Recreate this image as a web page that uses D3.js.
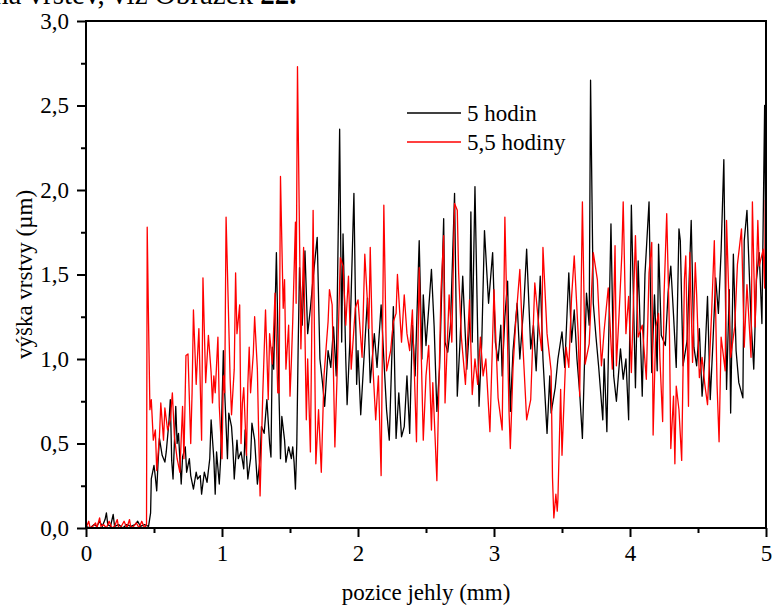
<!DOCTYPE html>
<html>
<head>
<meta charset="utf-8">
<title>výška vrstvy</title>
<script src="https://d3js.org/d3.v7.min.js"></script>
<style>
  body { margin: 0; background: #fff; }
  svg text { font-family: "Liberation Serif", "Times New Roman", serif; fill: #000; }
</style>
</head>
<body>
<svg width="774" height="609"></svg>
<script>
// data: [pozice (mm), výška (µm)]
var hodin5 = [
  [0.00,0.01],[0.03,0.00],[0.06,0.02],[0.08,0.01],[0.10,0.04],[0.12,0.01],[0.14,0.05],[0.15,0.09],[0.16,0.02],[0.18,0.01],
  [0.20,0.08],[0.21,0.01],[0.24,0.02],[0.27,0.00],[0.30,0.02],[0.33,0.01],[0.36,0.02],[0.38,0.04],[0.40,0.01],[0.43,0.02],
  [0.46,0.01],[0.475,0.09],[0.48,0.29],[0.50,0.37],[0.51,0.30],[0.52,0.22],[0.53,0.39],[0.54,0.53],[0.56,0.43],[0.58,0.39],
  [0.59,0.45],[0.61,0.63],[0.62,0.76],[0.63,0.40],[0.64,0.29],[0.66,0.72],[0.67,0.50],[0.68,0.56],[0.70,0.26],[0.71,0.42],
  [0.73,0.48],[0.74,0.33],[0.76,0.41],[0.77,0.31],[0.79,0.23],[0.81,0.33],[0.82,0.29],[0.84,0.31],[0.85,0.20],[0.87,0.33],
  [0.89,0.27],[0.91,0.41],[0.92,0.64],[0.94,0.41],[0.95,0.20],[0.96,0.45],[0.98,0.26],[0.99,0.41],[1.01,1.05],[1.02,0.80],
  [1.04,0.41],[1.05,0.68],[1.07,0.60],[1.08,0.48],[1.09,0.29],[1.11,0.52],[1.12,0.41],[1.14,0.45],[1.16,0.35],[1.17,0.58],
  [1.19,0.29],[1.21,0.41],[1.22,0.62],[1.24,0.52],[1.26,0.26],[1.28,0.41],[1.29,0.60],[1.31,0.56],[1.33,0.76],[1.35,0.50],
  [1.36,0.42],[1.37,1.07],[1.38,0.94],[1.40,1.63],[1.42,0.76],[1.43,0.41],[1.44,0.66],[1.46,0.52],[1.47,0.39],[1.49,0.48],
  [1.51,0.41],[1.52,0.48],[1.53,0.39],[1.54,0.23],[1.55,0.50],[1.56,1.07],[1.57,1.54],[1.59,1.20],[1.61,1.64],[1.63,1.15],
  [1.65,1.30],[1.67,1.48],[1.70,1.72],[1.72,1.00],[1.74,0.85],[1.755,0.72],[1.78,1.05],[1.80,0.95],[1.82,1.19],[1.84,0.90],
  [1.865,2.36],[1.88,1.10],[1.89,1.74],[1.91,1.00],[1.92,0.73],[1.94,1.10],[1.97,1.98],[1.99,0.85],[2.00,1.05],[2.02,0.67],
  [2.04,0.95],[2.07,1.36],[2.09,0.86],[2.12,1.15],[2.14,0.95],[2.17,1.32],[2.19,1.00],[2.21,0.70],[2.23,0.52],[2.26,1.31],
  [2.28,0.53],[2.30,0.80],[2.32,0.54],[2.34,0.60],[2.36,0.90],[2.38,0.56],[2.40,1.20],[2.42,0.90],[2.45,1.70],[2.47,1.00],
  [2.48,1.38],[2.50,1.08],[2.52,1.30],[2.54,1.53],[2.56,1.19],[2.58,0.69],[2.60,0.95],[2.63,1.83],[2.64,1.10],[2.66,1.04],
  [2.68,1.20],[2.71,1.98],[2.73,0.78],[2.75,1.10],[2.77,1.49],[2.80,0.94],[2.82,1.20],[2.83,1.87],[2.84,1.10],[2.86,2.02],
  [2.89,0.72],[2.91,1.10],[2.93,1.76],[2.96,1.33],[2.99,1.63],[3.01,1.10],[3.03,0.99],[3.05,1.20],[3.06,0.90],[3.08,1.25],
  [3.10,1.46],[3.12,0.69],[3.14,1.05],[3.17,1.33],[3.19,1.00],[3.22,1.33],[3.24,1.65],[3.27,1.06],[3.29,1.20],[3.31,0.93],
  [3.34,1.49],[3.36,1.00],[3.39,0.56],[3.41,0.90],[3.42,0.68],[3.45,0.83],[3.47,1.00],[3.50,1.16],[3.52,0.95],[3.55,1.51],
  [3.57,1.10],[3.59,1.29],[3.61,1.00],[3.63,0.80],[3.65,0.53],[3.68,1.39],[3.70,1.20],[3.71,2.65],[3.73,1.33],[3.75,1.13],
  [3.77,0.95],[3.80,0.64],[3.81,1.00],[3.83,0.57],[3.86,1.80],[3.88,0.90],[3.90,0.75],[3.93,1.06],[3.95,0.88],[3.97,1.00],
  [3.99,0.64],[4.01,1.91],[4.04,0.83],[4.06,1.58],[4.09,0.78],[4.11,1.50],[4.14,1.93],[4.16,0.92],[4.18,1.38],[4.20,0.93],
  [4.21,1.68],[4.23,1.14],[4.26,1.08],[4.28,1.39],[4.30,1.55],[4.32,1.26],[4.34,0.95],[4.36,1.77],[4.37,1.70],[4.39,0.96],
  [4.42,1.11],[4.45,1.82],[4.47,1.07],[4.49,0.96],[4.51,1.18],[4.53,0.78],[4.55,1.00],[4.57,1.37],[4.59,0.76],[4.61,1.10],
  [4.63,1.48],[4.65,1.27],[4.67,1.64],[4.69,2.18],[4.71,0.82],[4.73,1.41],[4.74,0.68],[4.76,1.62],[4.78,1.05],[4.80,0.86],
  [4.83,0.77],[4.84,1.70],[4.86,1.88],[4.89,1.23],[4.91,0.94],[4.93,1.47],[4.95,1.63],[4.97,1.21],[4.99,2.50],[5.00,1.36]
];

var hodiny55 = [
  [0.00,0.00],[0.02,0.04],[0.03,0.00],[0.05,0.01],[0.07,0.03],[0.08,0.00],[0.10,0.06],[0.11,0.01],[0.13,0.02],[0.15,0.00],
  [0.17,0.04],[0.19,0.00],[0.21,0.01],[0.23,0.05],[0.24,0.00],[0.26,0.01],[0.28,0.04],[0.30,0.00],[0.32,0.05],[0.33,0.00],
  [0.35,0.01],[0.37,0.03],[0.39,0.00],[0.41,0.04],[0.43,0.00],[0.445,0.02],[0.45,1.78],[0.46,1.21],[0.47,0.70],[0.48,0.76],
  [0.495,0.52],[0.51,0.58],[0.52,0.34],[0.54,0.54],[0.55,0.74],[0.57,0.52],[0.58,0.71],[0.60,0.58],[0.62,0.64],[0.635,0.80],
  [0.65,0.54],[0.67,0.41],[0.69,0.33],[0.71,0.72],[0.72,0.41],[0.735,1.02],[0.75,1.03],[0.77,0.50],[0.78,0.80],[0.79,1.29],
  [0.81,0.85],[0.83,1.18],[0.85,0.52],[0.86,1.48],[0.88,0.86],[0.90,1.14],[0.92,0.92],[0.93,0.74],[0.94,0.90],[0.95,0.80],
  [0.97,1.13],[0.98,0.72],[1.00,0.41],[1.01,0.90],[1.02,0.80],[1.03,1.84],[1.06,0.88],[1.07,0.67],[1.09,0.94],[1.10,1.51],
  [1.11,1.15],[1.13,1.32],[1.14,0.50],[1.15,0.74],[1.16,0.83],[1.18,0.43],[1.19,0.85],[1.20,1.07],[1.21,0.80],[1.23,1.03],
  [1.24,1.25],[1.26,0.94],[1.27,0.54],[1.28,0.19],[1.30,0.80],[1.32,1.29],[1.34,0.76],[1.35,1.15],[1.37,0.97],[1.39,1.39],
  [1.41,0.80],[1.42,0.80],[1.43,2.08],[1.45,1.30],[1.46,1.47],[1.47,0.94],[1.49,1.20],[1.50,0.78],[1.51,0.98],[1.52,1.22],
  [1.54,1.81],[1.545,1.33],[1.555,2.73],[1.58,1.06],[1.60,1.66],[1.62,0.64],[1.63,1.00],[1.65,0.45],[1.67,1.88],[1.69,0.38],
  [1.71,0.70],[1.73,0.33],[1.75,0.90],[1.78,1.22],[1.79,1.41],[1.81,1.32],[1.83,0.48],[1.85,1.00],[1.87,1.60],[1.89,1.55],
  [1.91,1.20],[1.93,1.49],[1.95,0.94],[1.98,1.30],[2.00,1.35],[2.03,1.01],[2.05,1.62],[2.08,1.18],[2.09,1.66],[2.11,0.95],
  [2.13,0.64],[2.15,0.90],[2.17,0.31],[2.19,1.91],[2.21,0.93],[2.24,1.05],[2.26,1.22],[2.28,1.27],[2.29,1.50],[2.32,1.10],
  [2.34,1.38],[2.36,1.15],[2.38,1.05],[2.40,1.29],[2.43,0.51],[2.45,1.54],[2.48,0.52],[2.50,0.90],[2.52,1.08],[2.54,0.58],
  [2.55,0.86],[2.58,0.28],[2.61,1.40],[2.63,1.73],[2.64,0.74],[2.67,1.38],[2.69,1.10],[2.71,1.92],[2.73,1.88],[2.74,1.51],
  [2.76,1.13],[2.79,0.85],[2.82,1.35],[2.84,0.79],[2.86,1.00],[2.88,0.85],[2.90,1.13],[2.92,0.90],[2.94,1.00],[2.97,0.57],
  [3.00,1.41],[3.03,0.77],[3.06,0.58],[3.08,1.84],[3.11,0.70],[3.12,0.47],[3.14,0.95],[3.16,1.22],[3.19,1.53],[3.21,1.12],
  [3.24,0.64],[3.27,0.76],[3.30,1.45],[3.33,1.19],[3.35,1.05],[3.36,1.66],[3.39,1.15],[3.42,0.93],[3.43,0.30],[3.44,0.06],
  [3.455,0.20],[3.465,0.10],[3.47,0.17],[3.49,0.82],[3.50,0.43],[3.53,1.07],[3.55,0.95],[3.57,1.36],[3.59,1.61],[3.62,1.13],
  [3.63,0.78],[3.65,1.93],[3.67,0.97],[3.70,1.09],[3.73,1.63],[3.76,1.47],[3.79,0.96],[3.81,1.17],[3.84,1.42],[3.87,0.94],
  [3.89,1.67],[3.90,0.96],[3.92,1.27],[3.94,1.62],[3.95,1.93],[3.97,1.15],[3.99,1.37],[4.01,0.92],[4.04,1.73],[4.06,1.13],
  [4.09,1.20],[4.12,0.88],[4.14,1.51],[4.16,1.69],[4.17,0.55],[4.19,1.19],[4.21,1.27],[4.22,1.00],[4.24,0.63],[4.25,1.37],
  [4.27,1.86],[4.29,1.17],[4.30,0.47],[4.32,0.78],[4.33,0.38],[4.34,0.84],[4.36,0.70],[4.38,0.40],[4.40,1.47],[4.41,1.61],
  [4.43,0.72],[4.44,1.63],[4.46,0.98],[4.48,1.57],[4.49,1.38],[4.51,0.89],[4.53,1.01],[4.55,0.85],[4.57,0.73],[4.60,1.27],
  [4.62,1.70],[4.64,0.85],[4.655,0.51],[4.67,1.13],[4.70,0.93],[4.71,1.82],[4.74,1.01],[4.77,1.19],[4.79,1.56],[4.82,1.77],
  [4.84,1.07],[4.86,1.44],[4.89,1.01],[4.90,1.93],[4.92,1.19],[4.94,1.82],[4.95,1.55],[4.98,1.65],[4.99,1.42],[4.995,1.94],
  [5.00,0.56]
];

var xMajor = [0, 1, 2, 3, 4, 5],
    xMinor = [0.5, 1.5, 2.5, 3.5, 4.5],
    yMajor = [0, 0.5, 1, 1.5, 2, 2.5, 3],
    yMinor = [0.25, 0.75, 1.25, 1.75, 2.25, 2.75];

var series = [
  {name: "5 hodin", data: hodin5, color: "#000000"},
  {name: "5,5 hodiny", data: hodiny55, color: "#ff0000"}
];

var serif = "'Liberation Serif', 'Times New Roman', serif";

var svg = d3.select("svg"),
    margin = {top: 21, right: 8, bottom: 81, left: 86},
    width = +svg.attr("width") - margin.left - margin.right,
    height = +svg.attr("height") - margin.top - margin.bottom;

var x = d3.scaleLinear().domain([0, 5]).range([0, width]),
    y = d3.scaleLinear().domain([0, 3]).range([height, 0]);

var comma = function(d) { return d3.format(".1f")(d).replace(".", ","); };

// piece of the document text cut off at the top
svg.append("text")
    .attr("x", -6)
    .attr("y", 4)
    .style("font-size", "29px")
    .text("ná vrstev, viz Obrázek ")
  .append("tspan")
    .style("font-weight", "bold")
    .text("22.");

var g = svg.append("g")
    .attr("transform", "translate(" + margin.left + "," + margin.top + ")");

var line = d3.line()
    .x(function(d) { return x(d[0]); })
    .y(function(d) { return y(d[1]); });

g.selectAll(".series")
    .data(series)
    .enter().append("path")
    .attr("class", "series")
    .attr("fill", "none")
    .attr("stroke", function(d) { return d.color; })
    .attr("stroke-width", 1.3)
    .attr("stroke-linejoin", "round")
    .attr("d", function(d) { return line(d.data); });

// frame
g.append("rect")
    .attr("width", width)
    .attr("height", height)
    .attr("fill", "none")
    .attr("stroke", "#000")
    .attr("stroke-width", 2);

// axes
g.append("g")
    .attr("class", "axis")
    .attr("transform", "translate(0," + height + ")")
    .call(d3.axisBottom(x).tickValues(xMajor).tickSize(9).tickPadding(8).tickFormat(d3.format("d")));
g.append("g")
    .attr("class", "axis")
    .attr("transform", "translate(0," + height + ")")
    .call(d3.axisBottom(x).tickValues(xMinor).tickSize(5).tickFormat(""));

g.append("g")
    .attr("class", "axis")
    .call(d3.axisLeft(y).tickValues(yMajor).tickSize(9).tickPadding(8).tickFormat(comma));
g.append("g")
    .attr("class", "axis")
    .call(d3.axisLeft(y).tickValues(yMinor).tickSize(5).tickFormat(""));

g.selectAll(".axis")
    .attr("font-family", serif)
    .attr("font-size", 23);
g.selectAll(".domain").attr("stroke", "none");
g.selectAll(".tick line").attr("stroke", "#000").attr("stroke-width", 2);
g.selectAll(".tick text")
    .style("font-family", serif)
    .style("font-size", "23px")
    .attr("fill", "#000");

// axis titles
svg.append("text")
    .attr("x", 426)
    .attr("y", 600)
    .style("text-anchor", "middle")
    .style("font-size", "23px")
    .text("pozice jehly (mm)");

svg.append("text")
    .attr("transform", "translate(32," + (margin.top + height / 2) + ") rotate(-90)")
    .style("text-anchor", "middle")
    .style("font-size", "23px")
    .text("výška vrstvy (µm)");

// legend
var legend = g.selectAll(".legend")
    .data(series)
    .enter().append("g")
    .attr("class", "legend")
    .attr("transform", function(d, i) { return "translate(321," + (92 + i * 29) + ")"; });

legend.append("line")
    .attr("x1", 0).attr("x2", 54)
    .attr("stroke", function(d) { return d.color; })
    .attr("stroke-width", 1.3);

legend.append("text")
    .attr("x", 60)
    .attr("dy", "0.33em")
    .style("font-size", "23px")
    .text(function(d) { return d.name; });
</script>
</body>
</html>
